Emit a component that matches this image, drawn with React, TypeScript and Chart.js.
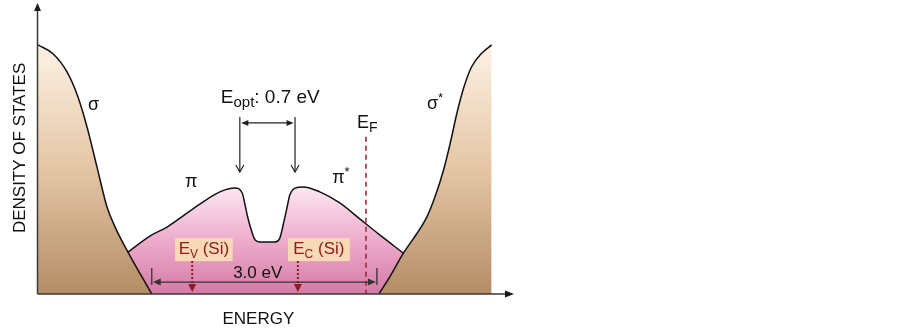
import React, { useEffect, useRef } from "react";
import { Chart, registerables } from "chart.js";

Chart.register(...registerables);

// ---- Data (energy on x, density of states on y, arbitrary units 0..100) ----
const sigmaX = [0, 3.2, 6.1, 8.4, 10.3, 12.4, 14.5, 16.2, 18.9, 23.9];
const sigmaY = [85.6, 82.5, 76.3, 67.7, 57.4, 43.6, 29.9, 23.0, 14.4, 0];

const sigmaStarX = [71.6, 73.9, 76.7, 79.6, 81.7, 83.4, 85.2, 86.6, 88.0, 89.4, 91.1, 93.2, 95.3];
const sigmaStarY = [0, 5.9, 13.9, 20.8, 26.5, 33.4, 42.6, 51.8, 62.1, 70.7, 78.1, 82.7, 85.6];

const piX = [18.9, 23.5, 27.1, 34.0, 38.2, 41.4, 42.9, 43.5, 44.1, 45.0, 45.6, 46.6, 49.8, 50.8, 51.5, 52.3, 52.9, 54.0, 55.7, 59.2, 63.4, 67.6, 71.8, 76.7];
const piY = [14.4, 19.9, 23.0, 30.9, 35.1, 36.4, 34.7, 30.6, 26.1, 21.0, 18.6, 17.9, 17.9, 19.2, 23.7, 29.6, 34.0, 36.4, 36.8, 35.1, 31.3, 25.8, 20.3, 14.1];

// ---- Annotation values (same data units) ----
const axisTitleX = "ENERGY";
const axisTitleY = "DENSITY OF STATES";
const fermiX = 68.9;
const fermiTop = 54.0;
const optLeftX = 42.4;
const optRightX = 54.0;
const optTop = 60.8;
const optBottom = 41.9;
const optArrowY = 58.8;
const gapLeftX = 23.9;
const gapRightX = 71.2;
const gapY = 4.1;
const gapCapTop = 8.9;
const gapCapBottom = 3.1;
const evX = 32.4;
const ecX = 54.6;
const siArrowTop = 11.3;
const siArrowBottom = 0.7;

type Part = [string, "n" | "sub" | "sup" | "sub2"];
const textLabels: { parts: Part[]; x: number; y: number; size: number }[] = [
  { parts: [["σ", "n"]], x: 10.5, y: 63.2, size: 18 },
  { parts: [["σ", "n"], ["*", "sup"]], x: 81.7, y: 63.6, size: 18 },
  { parts: [["π", "n"]], x: 30.9, y: 36.8, size: 18 },
  { parts: [["π", "n"], ["*", "sup"]], x: 61.8, y: 38.1, size: 18 },
  { parts: [["E", "n"], ["opt", "sub"], [": 0.7 eV", "n"]], x: 38.4, y: 65.6, size: 19 },
  { parts: [["E", "n"], ["F", "sub"]], x: 67.0, y: 57.0, size: 18 },
  { parts: [["3.0 eV", "n"]], x: 41.0, y: 5.5, size: 17 },
];
const siBoxes: { parts: Part[]; x0: number; x1: number; top: number; bottom: number; base: number }[] = [
  { parts: [["E", "n"], ["V", "sub2"], [" (Si)", "n"]], x0: 28.8, x1: 40.9, top: 19.2, bottom: 11.3, base: 13.7 },
  { parts: [["E", "n"], ["C", "sub2"], [" (Si)", "n"]], x0: 52.5, x1: 65.5, top: 19.2, bottom: 11.3, base: 13.7 },
];

const FONT = '"Liberation Sans", Arial, sans-serif';
const DARK_RED = "#8e1b24";

function zip(xs: number[], ys: number[]) {
  return xs.map((x, i) => ({ x, y: ys[i] }));
}

function partFont(kind: string, size: number) {
  const ratio = kind === "n" ? 1 : kind === "sub" ? 0.8 : 0.7;
  return `${Math.round(size * ratio)}px ${FONT}`;
}

function measureRich(ctx: CanvasRenderingContext2D, parts: Part[], size: number) {
  let w = 0;
  for (const [t, k] of parts) {
    ctx.font = partFont(k, size);
    w += ctx.measureText(t).width;
  }
  return w;
}

function drawRich(ctx: CanvasRenderingContext2D, parts: Part[], x: number, y: number, size: number) {
  let cx = x;
  ctx.textAlign = "left";
  ctx.textBaseline = "alphabetic";
  for (const [t, k] of parts) {
    ctx.font = partFont(k, size);
    const dy = k === "sub" || k === "sub2" ? size * 0.2 : k === "sup" ? -size * 0.38 : 0;
    ctx.fillText(t, cx, y + dy);
    cx += ctx.measureText(t).width;
  }
}

function filledHead(ctx: CanvasRenderingContext2D, x: number, y: number, ang: number, len: number, half: number) {
  ctx.beginPath();
  ctx.moveTo(x, y);
  ctx.lineTo(x - len * Math.cos(ang) + half * Math.sin(ang), y - len * Math.sin(ang) - half * Math.cos(ang));
  ctx.lineTo(x - len * Math.cos(ang) - half * Math.sin(ang), y - len * Math.sin(ang) + half * Math.cos(ang));
  ctx.closePath();
  ctx.fill();
}

function openHead(ctx: CanvasRenderingContext2D, x: number, y: number, ang: number, len: number, half: number) {
  ctx.beginPath();
  ctx.moveTo(x - len * Math.cos(ang) + half * Math.sin(ang), y - len * Math.sin(ang) - half * Math.cos(ang));
  ctx.lineTo(x, y);
  ctx.lineTo(x - len * Math.cos(ang) - half * Math.sin(ang), y - len * Math.sin(ang) + half * Math.cos(ang));
  ctx.stroke();
}

const overlay = {
  id: "overlay",
  afterDatasetsDraw(chart: any) {
    const ctx: CanvasRenderingContext2D = chart.ctx;
    const xs = chart.scales.x;
    const ys = chart.scales.y;
    const X = (v: number) => xs.getPixelForValue(v);
    const Y = (v: number) => ys.getPixelForValue(v);
    const area = chart.chartArea;
    ctx.save();

    // Fermi level dashed line
    ctx.strokeStyle = "#a52a36";
    ctx.lineWidth = 1.6;
    ctx.setLineDash([5, 4]);
    ctx.beginPath();
    ctx.moveTo(X(fermiX), Y(fermiTop));
    ctx.lineTo(X(fermiX), Y(0));
    ctx.stroke();
    ctx.setLineDash([]);

    // Si boxes
    for (const b of siBoxes) {
      ctx.fillStyle = "#f8d9b6";
      ctx.fillRect(X(b.x0), Y(b.top), X(b.x1) - X(b.x0), Y(b.bottom) - Y(b.top));
      ctx.fillStyle = DARK_RED;
      const w = measureRich(ctx, b.parts, 17);
      drawRich(ctx, b.parts, (X(b.x0) + X(b.x1)) / 2 - w / 2, Y(b.base), 17);
    }

    // Dotted red arrows
    ctx.strokeStyle = DARK_RED;
    ctx.fillStyle = DARK_RED;
    ctx.lineWidth = 2;
    for (const ax of [evX, ecX]) {
      ctx.setLineDash([2, 2]);
      ctx.beginPath();
      ctx.moveTo(X(ax), Y(siArrowTop));
      ctx.lineTo(X(ax), Y(siArrowBottom) - 6);
      ctx.stroke();
      ctx.setLineDash([]);
      filledHead(ctx, X(ax), Y(siArrowBottom), Math.PI / 2, 8, 4);
    }

    // Gap double arrow
    ctx.strokeStyle = "#333";
    ctx.fillStyle = "#333";
    ctx.lineWidth = 1.3;
    ctx.beginPath();
    ctx.moveTo(X(gapLeftX) + 4, Y(gapY));
    ctx.lineTo(X(gapRightX) - 4, Y(gapY));
    ctx.moveTo(X(gapLeftX), Y(gapCapTop));
    ctx.lineTo(X(gapLeftX), Y(gapCapBottom));
    ctx.moveTo(X(gapRightX), Y(gapCapTop));
    ctx.lineTo(X(gapRightX), Y(gapCapBottom));
    ctx.stroke();
    filledHead(ctx, X(gapLeftX) + 1, Y(gapY), Math.PI, 8, 3.5);
    filledHead(ctx, X(gapRightX) - 1, Y(gapY), 0, 8, 3.5);

    // Optical gap arrows
    ctx.strokeStyle = "#222";
    ctx.fillStyle = "#222";
    ctx.lineWidth = 1.2;
    for (const ax of [optLeftX, optRightX]) {
      ctx.beginPath();
      ctx.moveTo(X(ax), Y(optTop));
      ctx.lineTo(X(ax), Y(optBottom));
      ctx.stroke();
      openHead(ctx, X(ax), Y(optBottom), Math.PI / 2, 7, 4);
    }
    ctx.beginPath();
    ctx.moveTo(X(optLeftX) + 3, Y(optArrowY));
    ctx.lineTo(X(optRightX) - 3, Y(optArrowY));
    ctx.stroke();
    filledHead(ctx, X(optLeftX) + 1.5, Y(optArrowY), Math.PI, 7, 3);
    filledHead(ctx, X(optRightX) - 1.5, Y(optArrowY), 0, 7, 3);

    // Text labels
    ctx.fillStyle = "#111";
    for (const l of textLabels) drawRich(ctx, l.parts, X(l.x), Y(l.y), l.size);

    // Axes with arrows
    ctx.strokeStyle = "#3a3a3a";
    ctx.fillStyle = "#1a1a1a";
    ctx.lineWidth = 1.5;
    ctx.beginPath();
    ctx.moveTo(area.left - 0.5, Y(0));
    ctx.lineTo(area.left - 0.5, Y(100) + 6);
    ctx.moveTo(area.left - 0.5, Y(0));
    ctx.lineTo(X(100) - 6, Y(0));
    ctx.stroke();
    filledHead(ctx, area.left - 0.5, Y(100), -Math.PI / 2, 8, 3.5);
    filledHead(ctx, X(100), Y(0), 0, 9, 3.5);

    // Axis titles
    ctx.fillStyle = "#111";
    ctx.font = `17px ${FONT}`;
    ctx.textAlign = "center";
    ctx.textBaseline = "middle";
    ctx.fillText(axisTitleX, X(46.3), Y(0) + 25);
    ctx.save();
    ctx.translate(area.left - 18, Y(50.2));
    ctx.rotate(-Math.PI / 2);
    ctx.fillText(axisTitleY, 0, 0);
    ctx.restore();

    ctx.restore();
  },
};

function gradient(topVal: number, stops: [number, string][]) {
  return (c: any) => {
    const ch = c.chart;
    if (!ch.chartArea) return "rgba(0,0,0,0)";
    const g = ch.ctx.createLinearGradient(0, ch.scales.y.getPixelForValue(topVal), 0, ch.scales.y.getPixelForValue(0));
    for (const [o, col] of stops) g.addColorStop(o, col);
    return g;
  };
}

const tanStops: [number, string][] = [[0, "#fdf1e4"], [0.5, "#e4c6a5"], [1, "#b48c66"]];
const pinkStops: [number, string][] = [[0, "#fde8f3"], [0.5, "#eeaccc"], [1, "#d47aa5"]];

export default function App() {
  const ref = useRef<HTMLCanvasElement | null>(null);
  useEffect(() => {
    if (!ref.current) return;
    const common = {
      borderColor: "#111",
      borderWidth: 1.5,
      pointRadius: 0,
      fill: "origin",
      cubicInterpolationMode: "monotone" as const,
    };
    const chart = new Chart(ref.current, {
      type: "line",
      data: {
        datasets: [
          { ...common, label: "σ", data: zip(sigmaX, sigmaY), backgroundColor: gradient(85.6, tanStops), order: 1 },
          { ...common, label: "σ*", data: zip(sigmaStarX, sigmaStarY), backgroundColor: gradient(85.6, tanStops), order: 1 },
          { ...common, label: "π", data: zip(piX, piY), backgroundColor: gradient(37, pinkStops), order: 2 },
        ] as any,
      },
      options: {
        responsive: false,
        animation: false,
        layout: { padding: { left: 38, right: 389, top: 3, bottom: 38 } },
        plugins: { legend: { display: false }, tooltip: { enabled: false } },
        scales: {
          x: { type: "linear", min: 0, max: 100, display: false },
          y: { type: "linear", min: 0, max: 100, display: false },
        },
      },
      plugins: [overlay],
    });
    return () => chart.destroy();
  }, []);
  return (
    <div style={{ position: "absolute", left: 0, top: 0, width: 903, height: 332, background: "#fff" }}>
      <canvas ref={ref} width={903} height={332} />
    </div>
  );
}
